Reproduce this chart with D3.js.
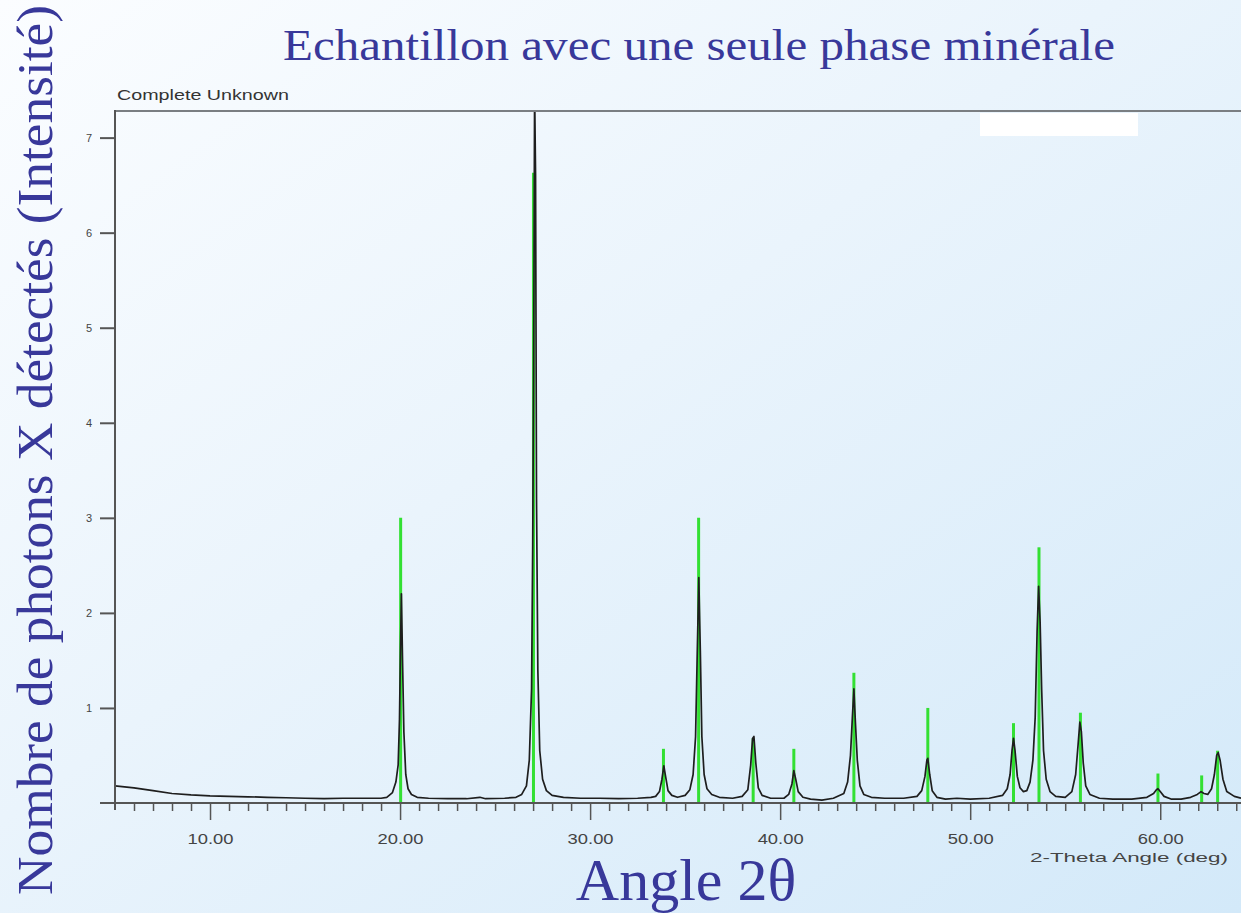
<!DOCTYPE html>
<html>
<head>
<meta charset="utf-8">
<script src="https://cdn.jsdelivr.net/npm/d3@7"></script>
<style>
  html, body { margin: 0; padding: 0; overflow: hidden; }
  svg { display: block; }
</style>
</head>
<body>
<div id="viz"></div>
<script>
// chart values
var yTicks = [1, 2, 3, 4, 5, 6, 7];
var xMajorTicks = [10, 20, 30, 40, 50, 60];
var xMinorTicks = [6, 7, 8, 9, 11, 12, 13, 14, 15, 16, 17, 18, 19, 21, 22, 23, 24, 25, 26, 27, 28, 29,
                   31, 32, 33, 34, 35, 36, 37, 38, 39, 41, 42, 43, 44, 45, 46, 47, 48, 49,
                   51, 52, 53, 54, 55, 56, 57, 58, 59, 61, 62, 63, 64];

// reference pattern (green sticks)
var stickAngles = [20.03, 27.02, 33.86, 35.71, 38.58, 40.72, 43.88, 47.77, 52.28, 53.62, 55.80, 59.88, 62.18, 63.02];
var stickHeights = [3.00, 6.63, 0.57, 3.00, 0.68, 0.57, 1.37, 1.00, 0.84, 2.69, 0.95, 0.31, 0.29, 0.55];

// measured pattern (black trace)
var profileAngles = [
  5.0, 6.0, 7.0, 8.0, 9.0, 10.0, 11.0, 12.0, 13.0, 14.0, 15.0, 16.0, 17.0, 18.0, 19.0,
  19.3, 19.6, 19.78, 19.9, 19.97, 20.02, 20.07, 20.13, 20.2, 20.3, 20.42, 20.6, 20.9,
  21.5, 22.5, 23.5, 24.2, 24.5, 25.5, 26.1,
  26.4, 26.65, 26.8, 26.92, 26.98, 27.03, 27.08, 27.13, 27.18, 27.25, 27.35, 27.5, 27.7, 28.0,
  28.6, 29.5, 30.5, 31.5, 32.5, 33.2,
  33.45, 33.65, 33.78, 33.88, 33.98, 34.1, 34.3, 34.6, 35.0, 35.25,
  35.42, 35.55, 35.63, 35.72, 35.8, 35.88, 36.0, 36.15, 36.4, 36.8, 37.5, 38.0,
  38.3, 38.45, 38.55, 38.62, 38.72, 38.85, 39.05, 39.5, 40.2, 40.45,
  40.62, 40.72, 40.82, 40.95, 41.2, 41.6, 42.2, 42.8, 43.35,
  43.55, 43.7, 43.8, 43.88, 43.96, 44.06, 44.2, 44.4, 44.8, 45.5, 46.5, 47.2, 47.45,
  47.62, 47.72, 47.77, 47.87, 48.0, 48.25, 48.7, 49.3, 50.0, 51.0, 51.7, 51.95,
  52.1, 52.2, 52.28, 52.36, 52.48, 52.62, 52.8, 52.98, 53.15, 53.3,
  53.42, 53.52, 53.6, 53.68, 53.76, 53.86, 54.0, 54.2, 54.5, 55.0, 55.35,
  55.55, 55.68, 55.77, 55.85, 55.95, 56.08, 56.3, 56.8, 57.5, 58.5, 59.3, 59.65,
  59.8, 59.88, 60.0, 60.2, 60.6, 61.1, 61.6, 61.95, 62.15, 62.3, 62.5, 62.7,
  62.85, 62.97, 63.05, 63.15, 63.3, 63.5, 63.9, 64.25
];
var profileCounts = [
  0.18, 0.16, 0.13, 0.10, 0.085, 0.075, 0.07, 0.065, 0.06, 0.055, 0.05, 0.045, 0.05, 0.05, 0.05,
  0.06, 0.11, 0.22, 0.40, 0.88, 1.60, 2.20, 1.50, 0.75, 0.30, 0.15, 0.09, 0.06,
  0.05, 0.045, 0.045, 0.06, 0.045, 0.05, 0.06,
  0.09, 0.18, 0.45, 1.20, 2.70, 4.60, 7.50, 6.60, 3.20, 1.40, 0.55, 0.25, 0.13, 0.08,
  0.06, 0.05, 0.05, 0.045, 0.05, 0.06,
  0.07, 0.12, 0.25, 0.39, 0.27, 0.13, 0.08, 0.06, 0.08, 0.14,
  0.30, 0.70, 1.50, 2.37, 1.60, 0.70, 0.30, 0.15, 0.09, 0.06, 0.05, 0.07,
  0.14, 0.40, 0.68, 0.70, 0.42, 0.16, 0.08, 0.05, 0.05, 0.09,
  0.20, 0.34, 0.25, 0.12, 0.06, 0.04, 0.03, 0.05, 0.10,
  0.22, 0.50, 0.90, 1.20, 0.85, 0.45, 0.18, 0.09, 0.06, 0.05, 0.05, 0.07, 0.13,
  0.28, 0.45, 0.47, 0.30, 0.13, 0.06, 0.04, 0.05, 0.04, 0.05, 0.08, 0.15,
  0.30, 0.55, 0.68, 0.55, 0.28, 0.16, 0.12, 0.13, 0.22, 0.45,
  0.90, 1.80, 2.28, 1.90, 1.20, 0.55, 0.25, 0.12, 0.07, 0.06, 0.12,
  0.30, 0.62, 0.85, 0.75, 0.42, 0.18, 0.09, 0.05, 0.04, 0.04, 0.06, 0.10,
  0.14, 0.15, 0.12, 0.07, 0.04, 0.04, 0.06, 0.09, 0.12, 0.10, 0.09, 0.15,
  0.30, 0.50, 0.53, 0.45, 0.25, 0.12, 0.07, 0.05
];

var W = 1241, H = 913;
var svg = d3.select("#viz").append("svg")
    .attr("width", W)
    .attr("height", H);

var defs = svg.append("defs");
var grad = defs.append("linearGradient")
    .attr("id", "bg")
    .attr("x1", "0").attr("y1", "0")
    .attr("x2", "1").attr("y2", "1");
grad.append("stop").attr("offset", "0").attr("stop-color", "#fbfdff");
grad.append("stop").attr("offset", "0.45").attr("stop-color", "#eaf4fc");
grad.append("stop").attr("offset", "1").attr("stop-color", "#d3e9f9");

svg.append("rect")
    .attr("width", W).attr("height", H)
    .attr("fill", "url(#bg)");

var x = d3.scaleLinear().domain([5, 64.25]).range([115, 1241]);
var y = d3.scaleLinear().domain([0, 7.28]).range([803, 111]);

defs.append("clipPath").attr("id", "plotclip")
  .append("rect")
    .attr("x", 115).attr("y", 111)
    .attr("width", W - 115).attr("height", 803 - 111);

// green reference sticks
svg.append("g")
    .attr("clip-path", "url(#plotclip)")
  .selectAll("line")
  .data(stickAngles)
  .enter().append("line")
    .attr("x1", function(d){ return x(d); })
    .attr("x2", function(d){ return x(d); })
    .attr("y1", y(0))
    .attr("y2", function(d, i){ return y(stickHeights[i]); })
    .attr("stroke", "#33e033")
    .attr("stroke-width", 3);

// black measured trace
var line = d3.line()
    .x(function(d, i){ return x(profileAngles[i]); })
    .y(function(d){ return y(d); });

svg.append("path")
    .datum(profileCounts)
    .attr("clip-path", "url(#plotclip)")
    .attr("d", line)
    .attr("fill", "none")
    .attr("stroke", "#1e1e1e")
    .attr("stroke-width", 1.7)
    .attr("stroke-linejoin", "round");

// frame: top border and left axis
svg.append("line")
    .attr("x1", 115).attr("x2", W)
    .attr("y1", 111).attr("y2", 111)
    .attr("stroke", "#7a7e82").attr("stroke-width", 2);

var yAxis = svg.append("g")
    .attr("transform", "translate(115,0)")
    .call(d3.axisLeft(y).tickValues(yTicks).tickSize(15).tickSizeOuter(0)
          .tickPadding(8).tickFormat(d3.format("d")));
yAxis.select(".domain").remove();
yAxis.selectAll(".tick line").attr("stroke", "#555").attr("stroke-width", 2);
yAxis.selectAll(".tick text")
    .attr("fill", "#444")
    .style("font-family", "'Liberation Sans', Arial, sans-serif")
    .style("font-size", "11px");

svg.append("line")
    .attr("x1", 115).attr("x2", 115)
    .attr("y1", 110).attr("y2", 810)
    .attr("stroke", "#555").attr("stroke-width", 2);

svg.append("line")
    .attr("x1", 100).attr("x2", W)
    .attr("y1", 803).attr("y2", 803)
    .attr("stroke", "#555").attr("stroke-width", 2);

var xMinor = svg.append("g")
    .attr("transform", "translate(0,803)")
    .call(d3.axisBottom(x).tickValues(xMinorTicks).tickSize(8).tickFormat(""));
xMinor.select(".domain").remove();
xMinor.selectAll(".tick line").attr("stroke", "#555").attr("stroke-width", 1.5);

var xMajor = svg.append("g")
    .attr("transform", "translate(0,803)")
    .call(d3.axisBottom(x).tickValues(xMajorTicks).tickSize(17).tickPadding(14)
          .tickFormat(d3.format(".2f")));
xMajor.select(".domain").remove();
xMajor.selectAll(".tick line").attr("stroke", "#555").attr("stroke-width", 1.5);
xMajor.selectAll(".tick text")
    .attr("fill", "#444")
    .attr("textLength", 46)
    .attr("lengthAdjust", "spacingAndGlyphs")
    .style("font-family", "'Liberation Sans', Arial, sans-serif")
    .style("font-size", "14px");

// white patch over the upper right
svg.append("rect")
    .attr("x", 980).attr("y", 113)
    .attr("width", 158).attr("height", 23)
    .attr("fill", "#ffffff");

// texts
svg.append("text")
    .attr("x", 117).attr("y", 100)
    .attr("textLength", 172)
    .attr("lengthAdjust", "spacingAndGlyphs")
    .attr("fill", "#333")
    .style("font-family", "'Liberation Sans', Arial, sans-serif")
    .style("font-size", "15px")
    .text("Complete Unknown");

svg.append("text")
    .attr("x", 1030).attr("y", 862)
    .attr("textLength", 198)
    .attr("lengthAdjust", "spacingAndGlyphs")
    .attr("fill", "#444")
    .style("font-family", "'Liberation Sans', Arial, sans-serif")
    .style("font-size", "13px")
    .text("2-Theta Angle (deg)");

svg.append("text")
    .attr("x", 283).attr("y", 60)
    .attr("textLength", 832)
    .attr("lengthAdjust", "spacingAndGlyphs")
    .attr("fill", "#38389a")
    .style("font-family", "'Liberation Serif', 'Times New Roman', serif")
    .style("font-size", "44px")
    .text("Echantillon avec une seule phase minérale");

svg.append("text")
    .attr("x", 686).attr("y", 900)
    .attr("text-anchor", "middle")
    .attr("fill", "#38389a")
    .style("font-family", "'Liberation Serif', 'Times New Roman', serif")
    .style("font-size", "60px")
    .text("Angle 2θ");

svg.append("text")
    .attr("transform", "translate(52,450) rotate(-90)")
    .attr("text-anchor", "middle")
    .attr("textLength", 890)
    .attr("lengthAdjust", "spacingAndGlyphs")
    .attr("fill", "#38389a")
    .style("font-family", "'Liberation Serif', 'Times New Roman', serif")
    .style("font-size", "50px")
    .text("Nombre de photons X détectés (Intensité)");
</script>
</body>
</html>
